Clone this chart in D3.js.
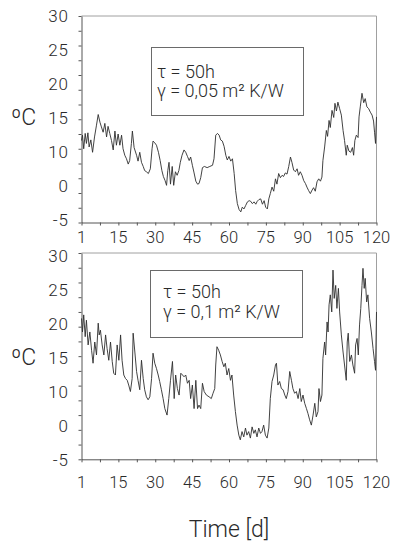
<!DOCTYPE html>
<html><head><meta charset="utf-8">
<script src="https://cdn.jsdelivr.net/npm/d3@7"></script>
<style>body{margin:0;background:#fff} svg{display:block}</style>
</head><body>
<svg id="c" width="394" height="542"></svg>
<script>
// ---- data ----
const yTickLabels = ["30","25","20","15","10","0","-5"];
const xTickValues = [0,15,30,45,60,75,90,105,120];
const xTickLabels = ["1","15","30","45","60","75","90","105","120"];
const topLegend = ["τ = 50h", "γ = 0,05 m² K/W"];
const bottomLegend = ["τ = 50h", "γ = 0,1 m² K/W"];
const yUnit = "ºC";
const xTitle = "Time [d]";

// [day, °C]
const topSeries = [[0,8.9],[0.4,9.8],[0.9,7.5],[1.5,10.1],[2.0,8.4],[2.6,10.2],[3.1,7.8],[3.8,9.0],[4.5,6.9],[5.3,9.5],
[6.1,11.5],[6.8,13.3],[7.5,12.0],[8.1,11.2],[8.8,10.3],[9.5,11.8],[10.2,9.5],[10.8,11.3],[11.5,10.1],[12.2,8.9],
[12.9,7.3],[13.6,10.5],[14.2,8.1],[14.9,10.0],[15.6,8.1],[16.3,9.8],[16.9,7.5],[17.6,6.4],[18.3,5.8],[19.0,4.9],
[19.6,5.5],[20.3,8.4],[20.7,10.5],[21.4,7.7],[22.4,6.4],[23.0,5.4],[23.7,6.9],[24.4,5.2],[25.1,4.5],[25.7,3.8],
[26.4,3.6],[27.2,3.3],[28.0,4.1],[28.7,7.5],[29.1,8.8],[29.8,8.5],[30.5,8.1],[31.3,6.9],[32.0,5.5],[32.7,3.8],
[33.3,2.8],[34.0,2.1],[34.6,1.3],[35.1,3.8],[35.6,5.2],[36.2,1.5],[36.9,4.5],[37.5,1.3],[38.2,3.6],[38.9,3.0],
[39.6,3.8],[40.2,5.2],[40.9,6.4],[41.7,7.3],[42.4,6.9],[43.1,6.2],[43.8,5.5],[44.4,6.1],[45.1,4.7],[45.8,3.4],
[46.5,2.0],[47.2,1.5],[47.8,1.6],[48.5,2.6],[49.2,4.3],[50.0,4.5],[51.1,4.3],[52.2,4.5],[53.3,4.7],[53.9,5.8],
[54.6,9.8],[55.3,10.1],[56.0,9.8],[56.6,9.0],[57.3,8.8],[58.0,7.9],[58.7,6.4],[59.3,5.6],[60.0,6.2],[60.7,5.4],
[61.4,5.8],[62.1,3.3],[62.7,0.4],[63.4,-1.8],[64.1,-2.8],[64.8,-3.2],[65.4,-2.4],[66.1,-2.7],[66.8,-2.1],[67.5,-1.5],
[68.2,-1.3],[68.8,-1.4],[69.5,-1.8],[70.2,-1.5],[70.9,-1.9],[71.5,-1.4],[72.2,-1.1],[72.9,-1.0],[73.6,-1.9],[74.3,-1.3],
[74.9,-2.4],[75.6,-2.7],[76.2,-1.0],[76.8,-0.1],[77.5,1.0],[78.2,0.3],[78.9,2.4],[79.5,1.5],[80.2,3.3],[80.9,2.6],
[81.6,3.0],[82.2,2.8],[82.9,3.4],[83.6,3.2],[84.3,4.5],[85.0,6.1],[85.6,5.2],[86.3,3.9],[87.0,3.6],[87.7,4.1],
[88.3,3.0],[89.0,3.6],[89.7,3.0],[90.4,2.1],[91.1,1.6],[91.7,1.0],[92.4,0.4],[93.1,-0.1],[93.8,0.5],[94.4,0.9],
[95.1,0.3],[95.8,1.9],[96.5,2.4],[97.2,2.0],[97.8,2.7],[98.2,5.5],[98.9,7.8],[99.6,10.6],[100.1,9.6],[100.7,12.3],
[101.2,11.1],[101.9,14.0],[102.6,12.8],[103.1,15.2],[103.7,13.9],[104.3,15.4],[105.0,14.3],[105.7,13.2],[106.4,10.6],[107.0,8.9],
[107.7,6.4],[108.1,8.1],[108.8,7.1],[109.5,6.9],[110.2,7.7],[110.7,6.4],[111.2,8.9],[111.8,9.8],[112.5,9.4],[112.9,12.9],
[113.4,14.6],[114.1,16.9],[114.8,15.3],[115.4,16.0],[116.1,14.6],[116.8,14.3],[117.5,13.7],[118.2,13.2],[118.8,12.2],[119.2,10.3],
[119.6,8.4],[120.0,12.9]];

const bottomSeries = [[0,18.9],[0.4,16.6],[0.9,19.5],[1.5,15.8],[2.0,18.6],[2.7,14.4],[3.4,16.6],[4.1,13.5],[4.7,11.3],[5.4,14.9],
[6.1,12.7],[6.8,18.1],[7.2,16.1],[7.7,16.9],[8.4,14.4],[9.1,12.7],[9.8,16.1],[10.4,13.8],[11.1,11.8],[11.8,14.9],
[12.5,11.6],[13.1,9.6],[13.8,9.3],[14.5,14.4],[15.2,11.8],[15.9,16.1],[16.5,11.8],[17.2,9.3],[17.9,8.7],[18.6,8.4],
[19.2,7.6],[19.9,6.5],[20.6,8.7],[21.0,16.4],[21.7,13.2],[22.4,9.9],[23.0,8.4],[23.7,6.8],[24.4,11.8],[25.1,8.7],
[25.7,6.8],[26.4,5.6],[27.1,5.1],[27.8,5.6],[28.5,8.7],[29.1,13.0],[29.8,11.3],[30.5,10.4],[31.2,9.3],[31.8,8.2],
[32.5,6.8],[33.2,5.3],[33.9,3.6],[34.8,2.5],[35.5,5.3],[36.2,8.4],[37.0,11.6],[37.7,5.3],[38.3,9.3],[39.0,7.0],
[39.7,5.9],[40.4,9.6],[41.1,9.3],[41.7,9.0],[42.4,9.3],[43.1,7.9],[43.8,8.4],[44.4,5.3],[45.1,7.6],[45.8,3.6],
[46.5,8.4],[47.2,3.6],[47.8,4.2],[48.5,3.6],[49.2,7.9],[49.9,6.5],[50.8,5.9],[51.9,5.6],[52.8,5.3],[53.5,6.2],
[54.2,7.0],[54.6,11.0],[55.1,14.1],[55.8,13.5],[56.5,12.7],[57.2,11.6],[57.9,10.7],[58.5,11.3],[59.2,9.3],[59.9,10.4],
[60.6,8.4],[61.2,9.3],[61.9,5.9],[62.6,3.1],[63.3,0.8],[64.0,-0.9],[64.6,-1.7],[65.3,-0.3],[66.0,-1.2],[66.7,0.3],
[67.3,-0.9],[68.0,-0.3],[68.7,-1.4],[69.4,0.5],[70.1,-0.6],[70.7,0.0],[71.4,-1.2],[72.1,0.3],[72.8,-0.6],[73.4,-0.3],
[74.1,0.8],[74.8,-0.9],[75.5,-1.4],[76.2,0.3],[76.8,5.3],[77.5,8.2],[78.2,9.3],[78.9,11.0],[79.3,11.3],[79.9,7.6],
[80.6,8.2],[81.3,7.0],[82.0,6.8],[82.7,5.9],[83.3,5.3],[84.0,6.5],[84.7,9.9],[85.4,8.4],[86.0,7.0],[86.7,6.2],
[87.4,6.5],[88.1,5.3],[88.8,7.0],[89.4,4.8],[90.1,5.9],[90.8,4.5],[91.5,3.6],[92.1,2.8],[92.8,1.7],[93.5,0.8],
[94.2,2.5],[94.9,4.5],[95.5,2.2],[96.2,3.1],[96.6,7.0],[97.2,4.8],[97.8,5.9],[98.2,12.1],[98.9,14.9],[99.3,12.7],
[99.9,18.3],[100.3,16.6],[100.7,21.2],[101.2,22.9],[101.8,20.0],[102.3,27.1],[102.8,22.3],[103.4,24.5],[103.9,20.6],[104.5,24.0],
[105.0,20.0],[105.7,16.1],[106.4,13.2],[107.0,11.0],[107.7,8.4],[108.1,14.9],[108.5,16.4],[109.1,11.6],[109.8,12.7],[110.4,11.0],
[111.1,9.6],[111.5,14.4],[112.1,15.5],[112.6,12.7],[113.1,17.8],[113.6,20.6],[114.1,24.5],[114.5,27.4],[115.0,24.0],[115.4,25.7],
[116.0,21.7],[116.5,22.9],[117.2,18.9],[117.9,16.6],[118.6,13.8],[119.2,11.6],[119.6,10.1],[120.0,20.0]];

// ---- drawing ----
const svg = d3.select("#c");
const FONT = "Roboto, 'Liberation Sans', Arial, sans-serif";
const FW = 300;
const textCol = "#2a2a2a";
const x = d3.scaleLinear().domain([0,120]).range([81.5, 376.5]);

const panels = [
  {series: topSeries, legend: topLegend, y0: 16, y1: 222.5, lab0: 16, lab1: 220, xLabY: 243,
   box: [151, 47, 303, 115], tx: 157, ty: [78, 97], unitY: 117},
  {series: bottomSeries, legend: bottomLegend, y0: 253, y1: 459.3, lab0: 256, lab1: 460, xLabY: 488,
   box: [150, 270, 302, 337], tx: 163, ty: [298, 318], unitY: 357}
];

panels.forEach(p => {
  const y = d3.scaleLinear().domain([-5, 30]).range([p.y1, p.y0]);
  const g = svg.append("g");

  // light frame (top + right)
  g.append("path")
    .attr("d", `M${x(0)},${y(30)}H${x(120)}V${y(-5)}`)
    .attr("fill", "none").attr("stroke", "#a0a0a0").attr("stroke-width", 1);

  // y axis
  const ya = g.append("g").attr("transform", `translate(${x(0)},0)`)
    .call(d3.axisLeft(y).tickValues(d3.range(-5, 30.01, 2.5)).tickFormat("").tickSize(3).tickSizeOuter(0));
  ya.selectAll("path,line").attr("stroke", "#555");

  // x axis
  const xa = g.append("g").attr("transform", `translate(0,${y(-5)})`)
    .call(d3.axisBottom(x).tickValues(d3.range(0, 120.01, 7.5)).tickFormat("").tickSize(3).tickSizeOuter(0));
  xa.selectAll("path,line").attr("stroke", "#555");

  // y labels (as printed)
  const yl = d3.scalePoint().domain(yTickLabels).range([p.lab0, p.lab1]);
  g.selectAll(".yl").data(yTickLabels).join("text")
    .attr("x", 69).attr("y", d => yl(d)).attr("dy", "0.36em")
    .attr("text-anchor", "end").attr("font-family", FONT).attr("font-weight", FW).attr("font-size", 17)
    .attr("letter-spacing", 1.0).attr("fill", textCol).text(d => d);

  // x labels
  g.selectAll(".xl").data(xTickValues).join("text")
    .attr("x", d => x(d)).attr("y", p.xLabY)
    .attr("text-anchor", "middle").attr("font-family", FONT).attr("font-weight", FW).attr("font-size", 16.5)
    .attr("fill", textCol).text((d, i) => xTickLabels[i]);

  // unit
  g.append("text").attr("x", 11).attr("y", p.unitY).attr("dy", "0.36em")
    .attr("font-family", FONT).attr("font-weight", FW).attr("font-size", 23).attr("fill", textCol).text(yUnit);

  // series
  g.append("path").datum(p.series)
    .attr("d", d3.line().x(d => x(d[0])).y(d => y(d[1])))
    .attr("fill", "none").attr("stroke", "#2e2e2e").attr("stroke-width", 0.9)
    .attr("stroke-linejoin", "miter");

  // legend box
  const [bx0, by0, bx1, by1] = p.box;
  g.append("rect").attr("x", bx0 + 0.5).attr("y", by0 + 0.5)
    .attr("width", bx1 - bx0).attr("height", by1 - by0)
    .attr("fill", "#fff").attr("stroke", "#6a6a6a").attr("stroke-width", 1);
  g.selectAll(".lg").data(p.legend).join("text")
    .attr("x", p.tx).attr("y", (d, i) => p.ty[i])
    .attr("font-family", FONT).attr("font-weight", FW).attr("font-size", 18).attr("fill", textCol).text(d => d);
});

svg.append("text").attr("x", 229).attr("y", 537).attr("text-anchor", "middle")
  .attr("font-family", FONT).attr("font-weight", FW).attr("font-size", 23).attr("fill", textCol).text(xTitle);
</script>
</body></html>
